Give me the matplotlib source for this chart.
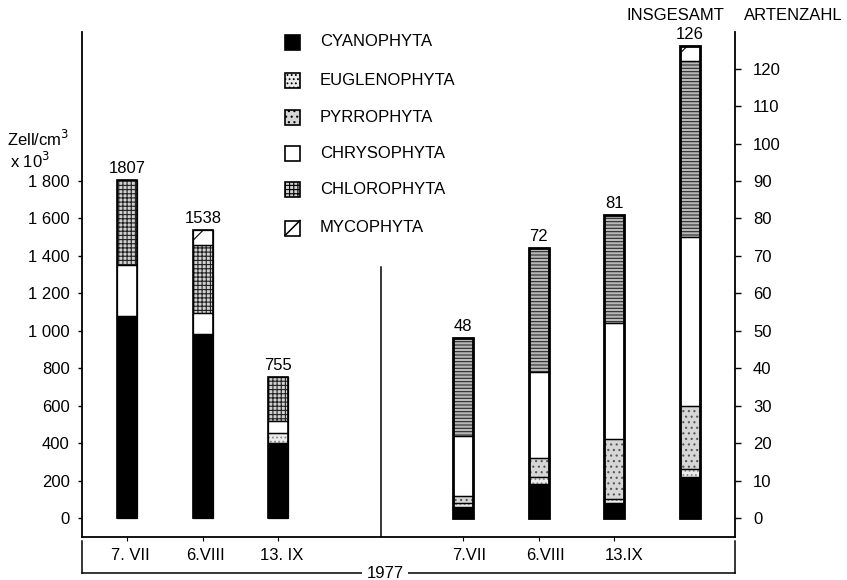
import matplotlib
matplotlib.use('Agg')
import matplotlib.pyplot as plt
from matplotlib.patches import Rectangle
from matplotlib.lines import Line2D

plt.rcParams['font.family'] = ['Liberation Sans', 'DejaVu Sans']
plt.rcParams['hatch.linewidth'] = 0.8

# ---------------- data ----------------
groups = ['CYANOPHYTA', 'EUGLENOPHYTA', 'PYRROPHYTA', 'CHRYSOPHYTA', 'CHLOROPHYTA', 'MYCOPHYTA']

# cell numbers (Zell/cm3 x 10^3)
cell_dates = ['7. VII', '6.VIII', '13. IX']
cell_totals = [1807, 1538, 755]
cell_cyano = [1077, 985, 400]
cell_eugleno = [0, 0, 55]
cell_pyrro = [0, 0, 0]
cell_chryso = [275, 110, 65]
cell_chloro = [455, 365, 235]
cell_myco = [0, 78, 0]

# species numbers (Artenzahl)
sp_dates = ['7.VII', '6.VIII', '13.IX', '']
sp_totals = [48, 72, 81, 126]
sp_cyano = [3, 9, 4, 11]
sp_eugleno = [1, 2, 1, 2]
sp_pyrro = [2, 5, 16, 17]
sp_chryso = [16, 23, 31, 45]
sp_chloro = [26, 33, 29, 47]
sp_myco = [0, 0, 0, 4]

left_ticks = [0, 200, 400, 600, 800, 1000, 1200, 1400, 1600, 1800]
left_ticklabels = ['0', '200', '400', '600', '800', '1 000', '1 200', '1 400', '1 600', '1 800']
right_ticks = [0, 10, 20, 30, 40, 50, 60, 70, 80, 90, 100, 110, 120]

# ---------------- styles ----------------
styles_left = [
    dict(face='black', hatch=None, hc='black'),
    dict(face='#ececec', hatch='....', hc='#8a8a8a'),
    dict(face='#d6d6d6', hatch='...', hc='#555555'),
    dict(face='white', hatch=None, hc='white'),
    dict(face='#d0d0d0', hatch='++++', hc='#222222'),
    dict(face='white', hatch='/', hc='black'),
]
styles_right = list(styles_left)
styles_right[4] = dict(face='#b8b8b8', hatch='-----', hc='#2a2a2a')

FS = 12
fig = plt.figure(figsize=(8.47, 5.80), dpi=100)
W, H = 847, 580
ax_l, ax_r, ax_t, ax_b = 82, 735, 32, 537
ax = fig.add_axes([ax_l / W, 1 - ax_b / H, (ax_r - ax_l) / W, (ax_b - ax_t) / H])
ax2 = ax.twinx()

ylo, yhi = -101, 2596
ax.set_ylim(ylo, yhi)
ax2.set_ylim(ylo / 20, yhi / 20)
ax.set_xlim(-0.6, 8.05)
ax2.set_xlim(-0.6, 8.05)

left_x = [0, 1, 2]
right_x = [4.45, 5.45, 6.45, 7.45]
bw = 0.27


def stack(axis, xs, series, styles, edge_lw):
    bottoms = [0] * len(xs)
    for vals, st in zip(series, styles):
        for i, (x, v) in enumerate(zip(xs, vals)):
            if v <= 0:
                continue
            axis.bar(x, v, bw, bottom=bottoms[i], color=st['face'], hatch=st['hatch'],
                     edgecolor=st['hc'], linewidth=0, zorder=2)
            axis.bar(x, v, bw, bottom=bottoms[i], fill=False, edgecolor='black',
                     linewidth=0.9, zorder=3)
            bottoms[i] += v
    for x, b in zip(xs, bottoms):
        axis.bar(x, b, bw, bottom=0, fill=False, edgecolor='black', linewidth=edge_lw, zorder=4)
    return bottoms


cell_series = [cell_cyano, cell_eugleno, cell_pyrro, cell_chryso, cell_chloro, cell_myco]
sp_series = [sp_cyano, sp_eugleno, sp_pyrro, sp_chryso, sp_chloro, sp_myco]
stack(ax, left_x, cell_series, styles_left, 1.2)
stack(ax2, right_x, sp_series, styles_right, 2.0)

# totals above bars
for x, t in zip(left_x, cell_totals):
    ax.text(x, t + 22, str(t), ha='center', va='bottom', fontsize=FS)
for x, t in zip(right_x, sp_totals):
    ax2.text(x, t + 1.1, str(t), ha='center', va='bottom', fontsize=FS)

# spines
for a in (ax, ax2):
    a.spines['top'].set_visible(False)
ax.spines['right'].set_visible(False)
ax2.spines['left'].set_visible(False)
ax2.spines['bottom'].set_visible(False)
for s in ('left', 'bottom'):
    ax.spines[s].set_linewidth(1.3)
ax2.spines['right'].set_linewidth(1.3)

# y ticks
ax.set_yticks(left_ticks)
ax.set_yticklabels(left_ticklabels)
ax.tick_params(axis='y', direction='out', length=3, width=1, pad=6, labelsize=FS)
ax2.set_yticks(right_ticks)
ax2.set_yticklabels([str(v) for v in right_ticks])
ax2.tick_params(axis='y', direction='out', length=4, width=1, pad=9, labelsize=FS)

# x ticks
ax.set_xticks(left_x + right_x[:3])
ax.set_xticklabels([])
ax.tick_params(axis='x', direction='out', length=3, width=0.8)
date_labels = cell_dates + sp_dates[:3]
offsets = [0.04, 0.03, 0.04, 0.08, 0.09, 0.13]
for x, lab, off in zip(left_x + right_x[:3], date_labels, offsets):
    ax.text(x + off, -0.022, lab, transform=ax.get_xaxis_transform(), ha='center', va='top',
            fontsize=FS)

# divider between the two panels
ax.axvline(3.36, ymin=0, ymax=(ax_b - 267) / (ax_b - ax_t), color='black', lw=1.1)

# headings
fig.text(38 / W, 1 - 139 / H, 'Zell/cm$^3$', ha='center', va='center', fontsize=FS)
fig.text(30 / W, 1 - 161 / H, 'x 10$^3$', ha='center', va='center', fontsize=FS)
fig.text(675 / W, 1 - 15 / H, 'INSGESAMT', ha='center', va='center', fontsize=FS)
fig.text(793 / W, 1 - 15 / H, 'ARTENZAHL', ha='center', va='center', fontsize=FS)

# bottom bracket with year
yb = 1 - 573 / H
ytop = 1 - 541 / H
for xs_, ys_ in [([82 / W, 82 / W], [ytop, yb]), ([735 / W, 735 / W], [ytop, yb]),
                 ([82 / W, 735 / W], [yb, yb])]:
    fig.add_artist(Line2D(xs_, ys_, color='black', lw=1.1))
fig.text(385 / W, yb, '1977', ha='center', va='center', fontsize=FS,
         bbox=dict(facecolor='white', edgecolor='none', pad=3))

# legend (drawn by hand to get the look of the printed key)
leg_rows = [42, 80, 117, 153, 190, 228]
sq = 15
for yrow, name, st in zip(leg_rows, groups, styles_left):
    x0 = 285 / W
    y0 = 1 - (yrow + sq / 2) / H
    fig.add_artist(Rectangle((x0, y0), sq / W, sq / H, transform=fig.transFigure,
                             facecolor=st['face'], hatch=st['hatch'] if name != 'MYCOPHYTA' else None,
                             edgecolor='black', linewidth=1.2))
    if name == 'MYCOPHYTA':
        fig.add_artist(Line2D([x0, x0 + sq / W], [y0, y0 + sq / H], color='black', lw=1.1))
    fig.text(320 / W, 1 - yrow / H, name, ha='left', va='center', fontsize=FS)

fig.savefig('out.png', dpi=100)
